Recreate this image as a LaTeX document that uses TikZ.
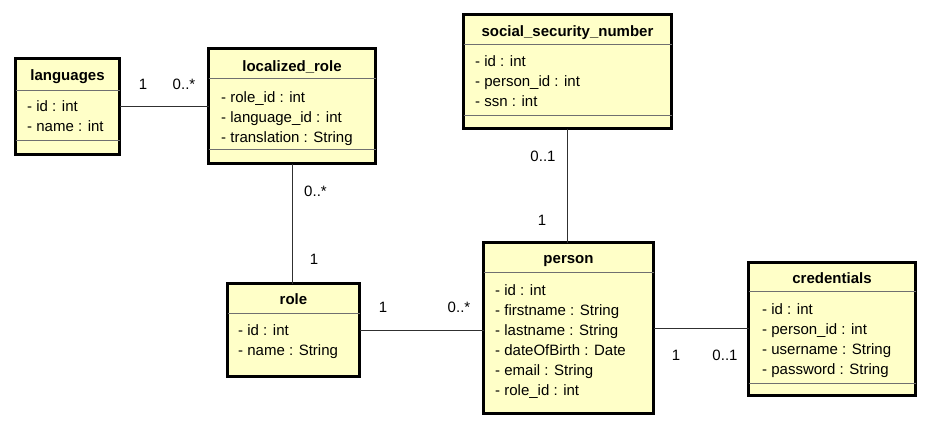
\documentclass[tikz,border=0pt]{standalone}
\usepackage{fontspec}
\setmainfont{Liberation Sans}
\definecolor{umlfill}{HTML}{FFFFC8}
\definecolor{sepcol}{HTML}{707070}
\definecolor{conncol}{HTML}{303030}
\tikzset{
  cls/.style={draw=black, line width=3pt, fill=umlfill, anchor=north west, inner sep=0pt, outer sep=0pt},
  sepl/.style={draw=sepcol, line width=0.9pt},
  conn/.style={draw=conncol, line width=1pt},
  ttl/.style={anchor=base, inner sep=0pt, font=\fontsize{15}{18}\selectfont\bfseries},
  attr/.style={anchor=base west, inner sep=0pt, font=\fontsize{15}{18}\selectfont},
  mult/.style={anchor=base, inner sep=0pt, font=\fontsize{15}{18}\selectfont},
}
\newcommand\attrlist[4]{%
  \foreach \t [count=\i] in {#4} {\node[attr] (#1-\i) at (#2, {#3+20*(\i-1)}) {\t};}}
\begin{document}
\begin{tikzpicture}[x=1pt,y=-1pt]
\useasboundingbox (0,0) rectangle (930,429);

% languages
\node[cls, minimum width=104pt, minimum height=96pt] (languages) at (15.5,58.5) {};
\draw[sepl] (languages.west |- 0,90) -- (languages.east |- 0,90);
\draw[sepl] (languages.west |- 0,140) -- (languages.east |- 0,140);
\node[ttl] (languages-t) at (67.5,80) {languages};
\attrlist{languages-a}{27}{111.5}{- id : int, - name : int}

% localized_role
\node[cls, minimum width=167pt, minimum height=115pt] (localized) at (208.5,48.5) {};
\draw[sepl] (localized.west |- 0,78) -- (localized.east |- 0,78);
\draw[sepl] (localized.west |- 0,149) -- (localized.east |- 0,149);
\node[ttl] (localized-t) at (292,71) {localized\_role};
\attrlist{localized-a}{221}{102}{- role\_id : int, - language\_id : int, - translation : String}

% social_security_number
\node[cls, minimum width=208pt, minimum height=114pt] (ssn) at (463.5,14.5) {};
\draw[sepl] (ssn.west |- 0,44) -- (ssn.east |- 0,44);
\draw[sepl] (ssn.west |- 0,115) -- (ssn.east |- 0,115);
\node[ttl] (ssn-t) at (567.5,36) {social\_security\_number};
\attrlist{ssn-a}{475}{66.5}{- id : int, - person\_id : int, - ssn : int}

% role
\node[cls, minimum width=132pt, minimum height=93pt] (role) at (227.5,283.5) {};
\draw[sepl] (role.west |- 0,313) -- (role.east |- 0,313);
\node[ttl] (role-t) at (293.5,304) {role};
\attrlist{role-a}{238}{335}{- id : int, - name : String}

% person
\node[cls, minimum width=170pt, minimum height=171pt] (person) at (483.5,242.5) {};
\draw[sepl] (person.west |- 0,272) -- (person.east |- 0,272);
\node[ttl] (person-t) at (568.5,263) {person};
\attrlist{person-a}{495}{295}{- id : int, - firstname : String, - lastname : String, - dateOfBirth : Date, - email : String, - role\_id : int}

% credentials
\node[cls, minimum width=167pt, minimum height=133pt] (credentials) at (748.5,262.5) {};
\draw[sepl] (credentials.west |- 0,291) -- (credentials.east |- 0,291);
\draw[sepl] (credentials.west |- 0,383) -- (credentials.east |- 0,383);
\node[ttl] (credentials-t) at (832,283) {credentials};
\attrlist{credentials-a}{762}{314}{- id : int, - person\_id : int, - username : String, - password : String}

% connectors
\draw[conn] (languages.east) -- (languages.east -| localized.west);
\draw[conn] (localized.south) -- (localized.south |- role.north);
\draw[conn] (ssn.south) -- (ssn.south |- person.north);
\draw[conn] (role.east) -- (role.east -| person.west);
\draw[conn] (person.east) -- (person.east -| credentials.west);

% multiplicities
\node[mult] (m1) at (143,89.5) {1};
\node[mult] (m2) at (184,89.5) {0..*};
\node[mult] (m3) at (315.5,196) {0..*};
\node[mult] (m4) at (314,264) {1};
\node[mult] (m5) at (543,161) {0..1};
\node[mult] (m6) at (542,225) {1};
\node[mult] (m7) at (383,312.5) {1};
\node[mult] (m8) at (459,312.5) {0..*};
\node[mult] (m9) at (676,360.5) {1};
\node[mult] (m10) at (725,360.5) {0..1};
\end{tikzpicture}
\end{document}
